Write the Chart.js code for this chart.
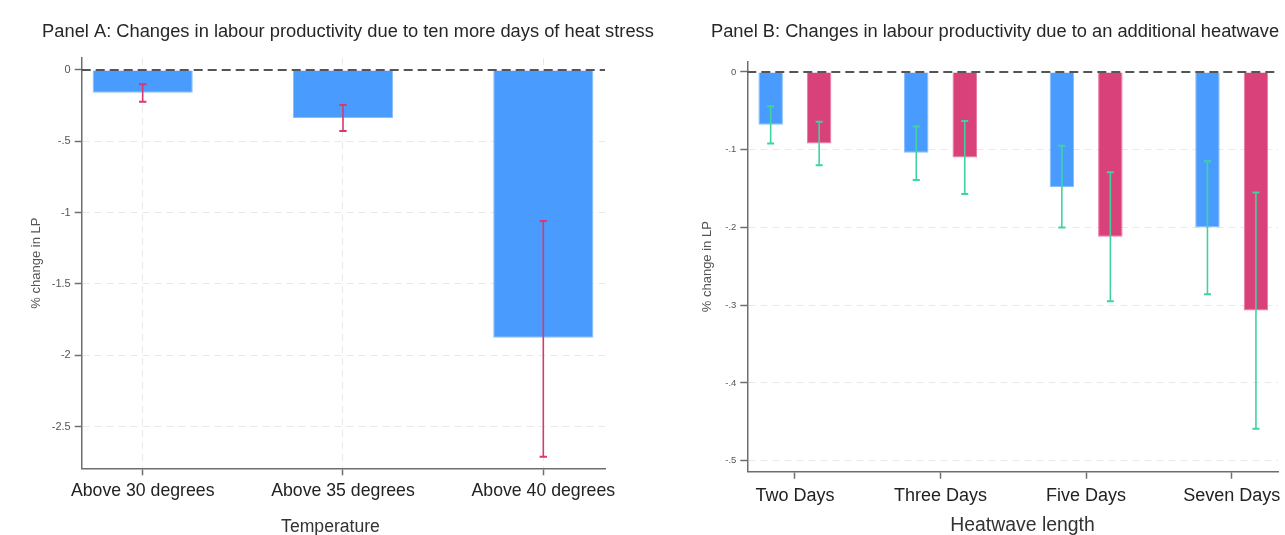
<!DOCTYPE html>
<html>
<head>
<meta charset="utf-8">
<script src="https://cdn.jsdelivr.net/npm/chart.js@4.4.1/dist/chart.umd.min.js"></script>
<style>
  html, body { margin: 0; padding: 0; background: #ffffff; overflow: hidden; width: 1285px; height: 535px; }
  canvas { position: absolute; top: 0; }
  #panelA { left: 0; }
  #panelB { left: 695px; }
</style>
</head>
<body>
<canvas id="panelA" width="696" height="535"></canvas>
<canvas id="panelB" width="600" height="535"></canvas>
<script>
// ---- Panel A: ten more days above each temperature threshold ----
const tempCategories = ['Above 30 degrees', 'Above 35 degrees', 'Above 40 degrees'];
const tempEstimate   = [-0.159, -0.337, -1.877];
const tempLower      = [-0.222, -0.428, -2.712];
const tempUpper      = [-0.100, -0.245, -1.059];
const tempYTicks     = [0, -0.5, -1, -1.5, -2, -2.5];
const tempYLabels    = ['0', '-.5', '-1', '-1.5', '-2', '-2.5'];

// ---- Panel B: one additional heatwave, by heatwave length ----
const waveCategories = ['Two Days', 'Three Days', 'Five Days', 'Seven Days'];
const waveEstimate1  = [-0.068, -0.104, -0.148, -0.200];
const waveLower1     = [-0.092, -0.139, -0.200, -0.286];
const waveUpper1     = [-0.044, -0.070, -0.095, -0.115];
const waveEstimate2  = [-0.092, -0.110, -0.212, -0.307];
const waveLower2     = [-0.120, -0.157, -0.295, -0.459];
const waveUpper2     = [-0.064, -0.063, -0.129, -0.155];
const waveYTicks     = [0, -0.1, -0.2, -0.3, -0.4, -0.5];
const waveYLabels    = ['0', '-.1', '-.2', '-.3', '-.4', '-.5'];

Chart.defaults.font.family = '"Liberation Sans", Arial, Helvetica, sans-serif';
Chart.defaults.color = '#333';

const AXIS_GREY = '#6e6e6e';
const GRID_GREY = '#e9e9e9';

// Dashed zero reference line, confidence intervals and the panel/axis titles
const panelDecor = {
  id: 'panelDecor',
  afterDatasetsDraw(chart, args, opts) {
    const { ctx, chartArea, scales } = chart;
    const y0 = scales.y.getPixelForValue(0);
    ctx.save();
    ctx.strokeStyle = '#555555';
    ctx.lineWidth = 2;
    ctx.setLineDash([9, 5]);
    ctx.beginPath();
    ctx.moveTo(chartArea.left, y0);
    ctx.lineTo(chartArea.right, y0);
    ctx.stroke();
    ctx.setLineDash([]);

    chart.data.datasets.forEach((ds, di) => {
      if (!ds.errLow) return;
      const meta = chart.getDatasetMeta(di);
      ctx.strokeStyle = ds.errColor;
      meta.data.forEach((bar, i) => {
        const yl = scales.y.getPixelForValue(ds.errLow[i]);
        const yh = scales.y.getPixelForValue(ds.errHigh[i]);
        const x = bar.x;
        const c = opts.capHalf;
        ctx.lineWidth = 1.6;
        ctx.beginPath();
        ctx.moveTo(x, yh); ctx.lineTo(x, yl);
        ctx.stroke();
        ctx.lineWidth = 2;
        ctx.beginPath();
        ctx.moveTo(x - c, yh); ctx.lineTo(x + c, yh);
        ctx.moveTo(x - c, yl); ctx.lineTo(x + c, yl);
        ctx.stroke();
      });
    });
    ctx.restore();
  },
  afterDraw(chart, args, opts) {
    const ctx = chart.ctx;
    const family = Chart.defaults.font.family;
    ctx.save();
    ctx.textAlign = 'center';
    ctx.textBaseline = 'alphabetic';
    ctx.fillStyle = '#262626';
    ctx.font = opts.titleSize + 'px ' + family;
    ctx.fillText(opts.title, opts.titleX, opts.titleY);
    ctx.fillStyle = '#333333';
    ctx.font = opts.xTitleSize + 'px ' + family;
    ctx.fillText(opts.xTitle, opts.xTitleX, opts.xTitleY);
    ctx.restore();
  }
};

function makePanel(canvasId, spec) {
  return new Chart(document.getElementById(canvasId), {
    type: 'bar',
    data: {
      datasets: spec.series.map(s => ({
        label: s.label,
        data: s.values.map((v, i) => ({ x: i, y: v })),
        errLow: s.low,
        errHigh: s.high,
        errColor: s.errColor,
        backgroundColor: s.fill,
        borderColor: s.edge,
        borderWidth: 1,
        barPercentage: spec.barPct,
        categoryPercentage: spec.catPct
      }))
    },
    options: {
      responsive: false,
      animation: false,
      devicePixelRatio: 1,
      layout: { padding: spec.padding },
      plugins: {
        legend: { display: false },
        tooltip: { enabled: false },
        title: { display: false },
        panelDecor: spec.decor
      },
      scales: {
        x: {
          type: 'linear',
          min: spec.xMin,
          max: spec.xMax,
          offset: false,
          afterBuildTicks: s => { s.ticks = spec.categories.map((c, i) => ({ value: i })); },
          afterFit: s => { s.height = spec.xAxisHeight; },
          ticks: {
            autoSkip: false, maxRotation: 0, minRotation: 0, padding: spec.xTickPad,
            color: '#222222', font: { size: spec.xTickSize },
            callback: v => spec.categories[Math.round(v)]
          },
          grid: {
            offset: false, drawOnChartArea: spec.vGrid, color: GRID_GREY, lineWidth: 1,
            drawTicks: true, tickLength: 7, tickColor: AXIS_GREY, tickWidth: 1.5
          },
          border: { display: true, color: AXIS_GREY, width: 1.5, dash: [7, 5] }
        },
        y: {
          type: 'linear',
          min: spec.yMin,
          max: spec.yMax,
          afterBuildTicks: s => { s.ticks = spec.yTicks.map(v => ({ value: v })); },
          afterFit: s => { s.width = spec.yAxisWidth; },
          ticks: {
            padding: 4, color: '#555555', font: { size: spec.yTickSize },
            callback: (v, i) => spec.yLabels[i]
          },
          grid: {
            color: c => (c.tick && c.tick.value === 0) ? 'rgba(0,0,0,0)' : GRID_GREY,
            lineWidth: 1, drawTicks: true, tickLength: 7, tickColor: AXIS_GREY, tickWidth: 1.5
          },
          border: { display: true, color: AXIS_GREY, width: 1.5, dash: [7, 5] },
          title: {
            display: true, text: '% change in LP', color: '#555555',
            font: { size: 13 }, padding: { top: spec.yTitlePad, bottom: 0 }
          }
        }
      }
    },
    plugins: [panelDecor]
  });
}

makePanel('panelA', {
  categories: tempCategories,
  yTicks: tempYTicks,
  yLabels: tempYLabels,
  series: [
    { label: 'Ten more days', values: tempEstimate, low: tempLower, high: tempUpper,
      fill: '#4a9bfe', edge: '#86bdff', errColor: '#d8396f' }
  ],
  barPct: 0.5, catPct: 1.0,
  xMin: -0.3045, xMax: 2.308,
  yMin: -2.793, yMax: 0.084,
  padding: { top: 58, left: 0, right: 91, bottom: 0 },
  yAxisWidth: 81.7, xAxisHeight: 66.7,
  xTickSize: 17.7, xTickPad: 5, yTickSize: 11, yTitlePad: 29,
  vGrid: true,
  decor: {
    capHalf: 3.7,
    title: 'Panel A: Changes in labour productivity due to ten more days of heat stress',
    titleSize: 18.3, titleX: 348, titleY: 36.5,
    xTitle: 'Temperature', xTitleSize: 17.6, xTitleX: 330.5, xTitleY: 532
  }
});

makePanel('panelB', {
  categories: waveCategories,
  yTicks: waveYTicks,
  yLabels: waveYLabels,
  series: [
    { label: 'Estimate 1', values: waveEstimate1, low: waveLower1, high: waveUpper1,
      fill: '#4a9bfe', edge: '#86bdff', errColor: '#3fd49e' },
    { label: 'Estimate 2', values: waveEstimate2, low: waveLower2, high: waveUpper2,
      fill: '#d9417a', edge: '#e87aa2', errColor: '#3fd49e' }
  ],
  barPct: 0.505, catPct: 0.666,
  xMin: -0.327, xMax: 3.318,
  yMin: -0.5142, yMax: 0.0132,
  padding: { top: 61.7, left: 0, right: 17, bottom: 0 },
  yAxisWidth: 52.3, xAxisHeight: 63.3,
  xTickSize: 18, xTickPad: 6.5, yTickSize: 9.5, yTitlePad: 4.7,
  vGrid: false,
  decor: {
    capHalf: 3.5,
    title: 'Panel B: Changes in labour productivity due to an additional heatwave',
    titleSize: 18.3, titleX: 300, titleY: 36.5,
    xTitle: 'Heatwave length', xTitleSize: 19.4, xTitleX: 327.5, xTitleY: 530.5
  }
});
</script>
</body>
</html>
